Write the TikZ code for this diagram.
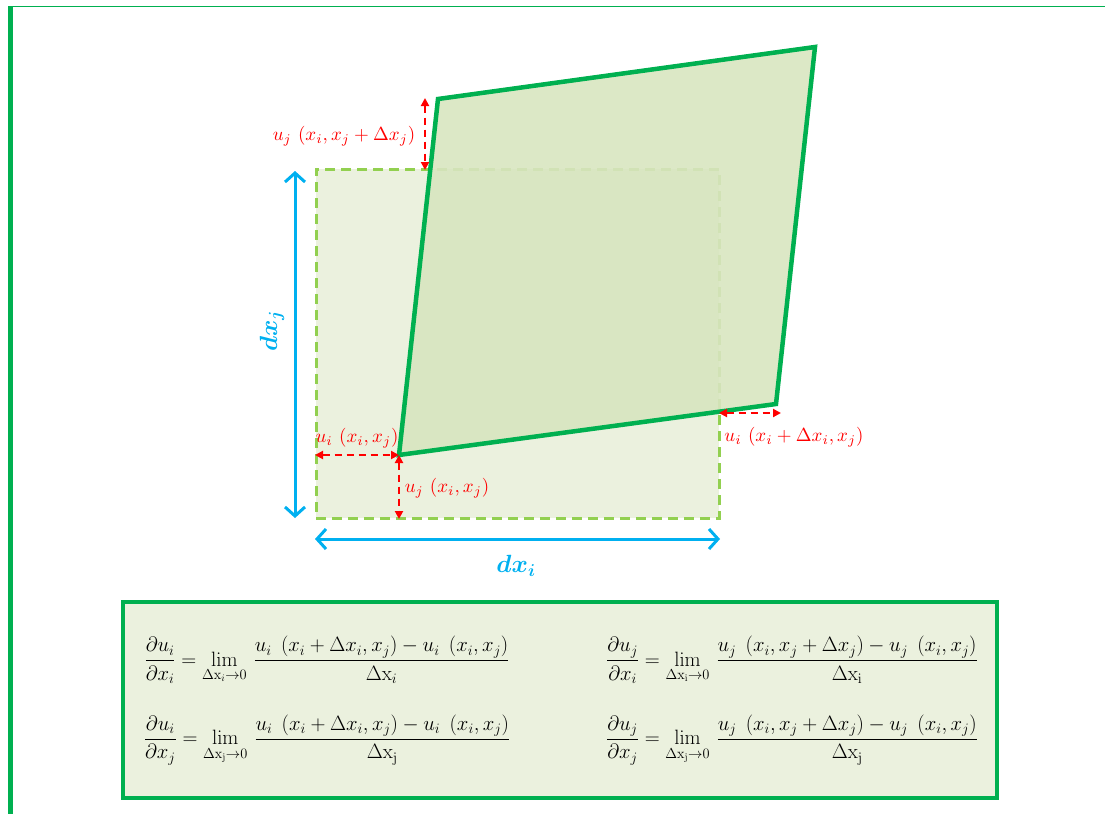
\documentclass[tikz,border=0pt]{standalone}
\usepackage{amsmath}
\usetikzlibrary{arrows.meta}
\definecolor{dkgreen}{HTML}{00B050}
\definecolor{ltgreen}{HTML}{92D050}
\definecolor{fillA}{HTML}{EBF1DE}
\definecolor{fillB}{HTML}{D8E5C0}
\definecolor{skyblue}{HTML}{00B0F0}
\definecolor{myred}{HTML}{FF0000}
\tikzset{
  rectorig/.style={draw=ltgreen, line width=3pt, dash pattern=on 10pt off 6pt, fill=fillA},
  paral/.style={draw=dkgreen, line width=4.5pt, line join=miter},
  paralfill/.style={fill=fillB, fill opacity=0.9},
  dimarrow/.style={draw=skyblue, line width=3pt, {Straight Barb[length=9pt,width=20pt,line width=3pt]}-{Straight Barb[length=9pt,width=20pt,line width=3pt]}},
  disparrow/.style={draw=myred, line width=2pt, dash pattern=on 7pt off 5pt, {Triangle[length=8pt,width=8pt]}-{Triangle[length=8pt,width=8pt]}},
  redlbl/.style={text=myred, inner sep=0pt, font=\normalsize, scale=1.9},
  dimlbl/.style={text=skyblue, inner sep=0pt, font=\fontsize{27}{30}\selectfont},
  formula/.style={inner sep=0pt, font=\fontsize{19.5}{23}\selectfont},
  formbox/.style={draw=dkgreen, line width=4pt, fill=fillA}
}
\begin{document}
\begin{tikzpicture}[x=1pt,y=-1pt]
\useasboundingbox (0,0) rectangle (1106,814);
% frame
\fill[dkgreen] (8,6) rectangle (13,814);
\draw[dkgreen, line width=1pt] (8,6.5) -- (1105,6.5);
% original element
\coordinate (A) at (316,518);
\coordinate (B) at (719,518);
\coordinate (C) at (719,169);
\coordinate (D) at (316,169);
\path[rectorig] (A) -- (B) -- (C) -- (D) -- cycle;
% deformed element
\coordinate (P1) at (399,455);
\coordinate (P2) at (776,404);
\coordinate (P3) at (815,47);
\coordinate (P4) at (438,99);
\path[paralfill] (P1) -- (P2) -- (P3) -- (P4) -- cycle;
\draw[paral] (P1) -- (P2) -- (P3) -- (P4) -- cycle;
% dimension arrows
\coordinate (V1) at (295,171);
\coordinate (V2) at (295,518);
\coordinate (H1) at (315,539);
\coordinate (H2) at (720,539);
\draw[dimarrow] (V1) -- (V2);
\draw[dimarrow] (H1) -- (H2);
\node[dimlbl, rotate=90] (dxj) at (272,331) {$\boldsymbol{dx_j}$};
\node[dimlbl] (dxi) at (516,566) {$\boldsymbol{dx_i}$};
% displacement arrows
\coordinate (T1) at (425,98);
\coordinate (T2) at (425,170);
\draw[disparrow] (T1) -- (T2);
\coordinate (L1) at (315,455);
\draw[disparrow] (L1) -- (P1);
\coordinate (L2) at (399,519);
\draw[disparrow] (P1) -- (L2);
\coordinate (R1) at (719,413);
\coordinate (R2) at (781,413);
\draw[disparrow] (R1) -- (R2);
\node[redlbl] (lab1) at (344,136) {$u_j\ (x_i, x_j + \Delta x_j)$};
\node[redlbl] (lab2) at (357,438) {$u_i\ (x_i, x_j)$};
\node[redlbl] (lab3) at (447,488) {$u_j\ (x_i, x_j)$};
\node[redlbl] (lab4) at (794,437) {$u_i\ (x_i + \Delta x_i, x_j)$};
% formula box
\path[formbox] (123,602) rectangle (997,798);
\node[formula] (f1) at (327,660) {$\displaystyle \frac{\partial u_i}{\partial x_i} = \lim_{\Delta \mathrm{x}_i \to 0}\, \frac{u_i\ \left(x_i + \Delta x_i, x_j\right) - u_i\ \left(x_i, x_j\right)}{\Delta \mathrm{x}_i}$};
\node[formula] (f2) at (792,660) {$\displaystyle \frac{\partial u_j}{\partial x_i} = \lim_{\Delta \mathrm{x}_\mathrm{i} \to 0}\, \frac{u_j\ \left(x_i, x_j + \Delta x_j\right) - u_j\ \left(x_i, x_j\right)}{\Delta \mathrm{x}_\mathrm{i}}$};
\node[formula] (f3) at (327,740) {$\displaystyle \frac{\partial u_i}{\partial x_j} = \lim_{\Delta \mathrm{x}_\mathrm{j} \to 0}\, \frac{u_i\ \left(x_i + \Delta x_i, x_j\right) - u_i\ \left(x_i, x_j\right)}{\Delta \mathrm{x}_\mathrm{j}}$};
\node[formula] (f4) at (792,740) {$\displaystyle \frac{\partial u_j}{\partial x_j} = \lim_{\Delta \mathrm{x}_\mathrm{j} \to 0}\, \frac{u_j\ \left(x_i, x_j + \Delta x_j\right) - u_j\ \left(x_i, x_j\right)}{\Delta \mathrm{x}_\mathrm{j}}$};
\end{tikzpicture}
\end{document}
